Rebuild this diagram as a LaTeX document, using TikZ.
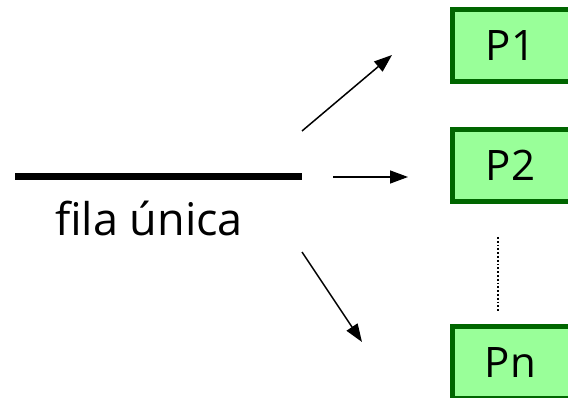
\documentclass[tikz,border=0pt]{standalone}
\usepackage{fontspec}
\setmainfont{Open Sans}
\usetikzlibrary{arrows.meta}
\definecolor{boxfill}{HTML}{99FF99}
\definecolor{boxline}{HTML}{006600}
\tikzset{
  proc/.style={draw=boxline, fill=boxfill, line width=5pt, minimum width=121pt,
    minimum height=72pt, inner sep=0pt, font=\fontsize{42}{42}\selectfont},
  flow/.style={line width=1.5pt, -{Triangle[length=18pt,width=13pt]}}
}
\begin{document}
\begin{tikzpicture}[x=1pt,y=-1pt]
\useasboundingbox (0,0) rectangle (568,398);
% single queue
\coordinate (q0) at (15,177);
\coordinate (q1) at (302,177);
\draw[line width=7pt] (q0) -- (q1);
\node[font=\fontsize{45}{45}\selectfont] (lbl) at (149,218) {fila única};
% servers
\node[proc] (p1) at (513,45.5) {\hspace*{-5pt}P1};
\node[proc] (p2) at (513,165.5) {\hspace*{-5pt}P2};
\node[proc] (pn) at (513,362.5) {\hspace*{-5pt}Pn};
\coordinate (d0) at (498,237);
\coordinate (d1) at (498,312);
\draw[line width=1.8pt, dotted] (d0) -- (d1);
% dispatch arrows
\coordinate (a1s) at (302,131); \coordinate (a1e) at (392,55);
\coordinate (a2s) at (333,177); \coordinate (a2e) at (408,177);
\coordinate (a3s) at (302,252); \coordinate (a3e) at (362,342);
\draw[flow] (a1s) -- (a1e);
\draw[flow] (a2s) -- (a2e);
\draw[flow] (a3s) -- (a3e);
\end{tikzpicture}
\end{document}
